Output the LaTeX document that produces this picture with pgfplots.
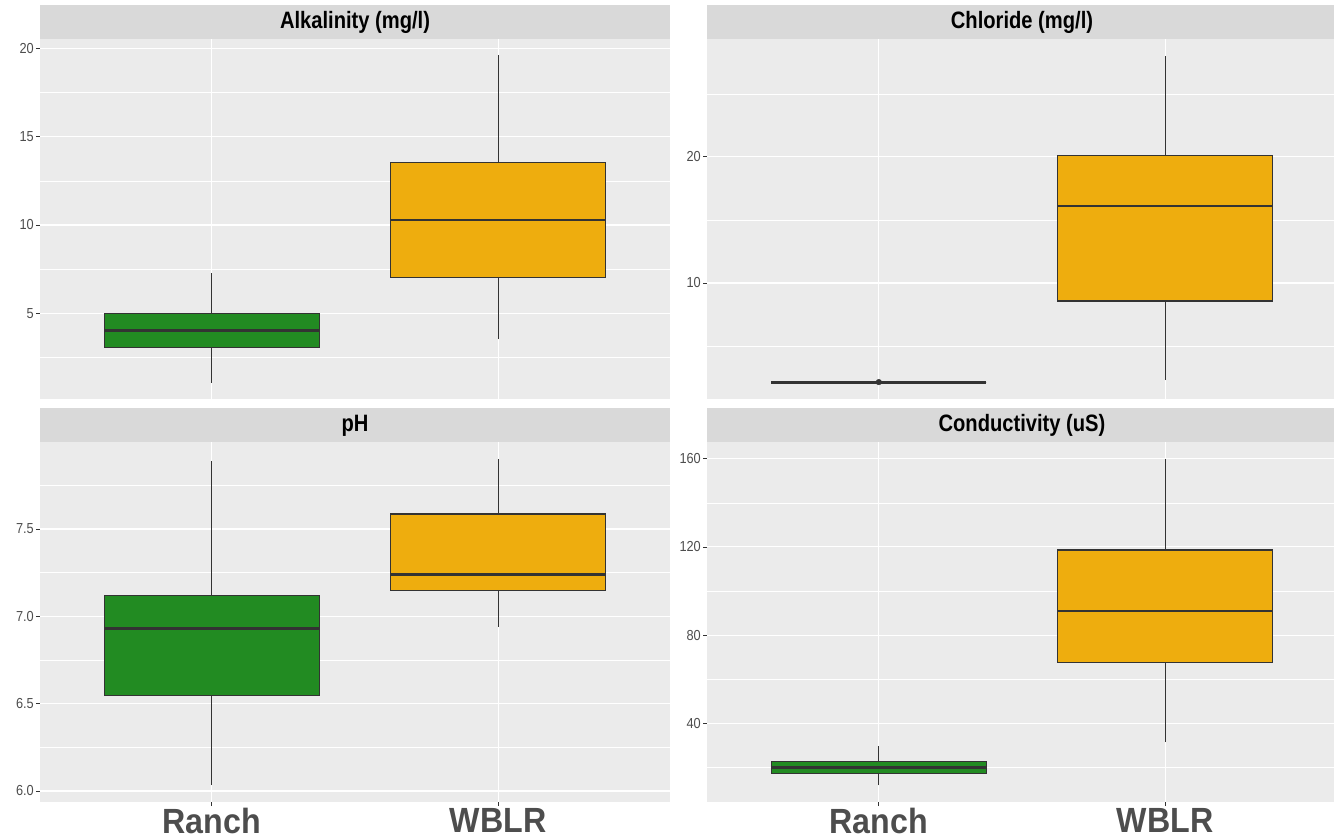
\documentclass[border=0pt]{standalone}
\usepackage{pgfplots}
\pgfplotsset{compat=1.18}
\usepgfplotslibrary{statistics}
\usepackage{fontspec}
\setmainfont{Liberation Sans}[FakeStretch=0.88]
\newfontfamily\tickfam{Liberation Sans}[FakeStretch=0.88]
\newfontfamily\stripfam{Liberation Sans}[FakeStretch=0.85]
\newfontfamily\xfam{Liberation Sans}[FakeStretch=0.92]
\definecolor{panelbg}{HTML}{EBEBEB}
\definecolor{stripbg}{HTML}{D9D9D9}
\definecolor{ranchgreen}{HTML}{228B22}
\definecolor{wblrgold}{HTML}{EEAD0E}
\definecolor{boxdraw}{HTML}{333333}
\definecolor{labelgray}{HTML}{4D4D4D}
\pgfplotsset{
  facet/.style={
    scale only axis, width=630pt, height=360pt, anchor=north west,
    xmin=0.4, xmax=2.6, xtick={1,2},
    axis background/.style={fill=panelbg},
    axis line style={draw=none},
    xmajorgrids, ymajorgrids, yminorgrids,
    major grid style={white, line width=1.1pt},
    minor grid style={white, line width=0.55pt},
    tick pos=left, tick align=outside,
    major tick length=4pt, minor tick length=0pt,
    tick style={draw=boxdraw, line width=0.8pt},
    yticklabel style={font=\tickfam\fontsize{14.5}{16}\selectfont, text=labelgray, inner sep=2pt},
    /pgf/number format/assume math mode=true,
    boxplot/draw direction=y,
    boxplot/box extend=0.75,
    boxplot/whisker extend=0,
    boxplot/every box/.style={line width=1.2pt},
    boxplot/every median/.style={line width=2.8pt},
    boxplot/every whisker/.style={line width=0.9pt},
  },
  topfacet/.style={xticklabels={}, xtick style={draw=none}},
  bottomfacet/.style={xticklabels={Ranch,WBLR},
    xticklabel style={font=\xfam\bfseries\fontsize{35}{38}\selectfont, text=labelgray, inner sep=1pt, yshift=-1pt}},
  strip/.style={extra description/.append code={
    \fill[stripbg] (rel axis cs:0,1) rectangle ([yshift=34pt]rel axis cs:1,1);
    \node[font=\stripfam\bfseries\fontsize{23.7}{26}\selectfont, text=black] at ([yshift=16.5pt]rel axis cs:0.5,1) {#1};
  }},
  ranchbox/.style={fill=ranchgreen, draw=boxdraw, mark=none},
  wblrbox/.style={fill=wblrgold, draw=boxdraw, mark=none},
}
\begin{document}
\begin{tikzpicture}[x=1pt,y=1pt]
\useasboundingbox (0,0) rectangle (1334,-840);
% Alkalinity
\begin{axis}[facet, topfacet, at={(40pt,-39pt)}, strip={Alkalinity (mg/l)},
  ymin=0.15, ymax=20.53, ytick={5,10,15,20}, minor ytick={2.5,7.5,12.5,17.5}]
\addplot[ranchbox, boxplot prepared={draw position=1, lower whisker=1.08, lower quartile=3.07, median=4.03, upper quartile=5.0, upper whisker=7.27}] coordinates {};
\addplot[wblrbox, boxplot prepared={draw position=2, lower whisker=3.52, lower quartile=7.05, median=10.28, upper quartile=13.52, upper whisker=19.6}] coordinates {};
\end{axis}
% Chloride
\begin{axis}[facet, topfacet, at={(707pt,-39pt)}, strip={Chloride (mg/l)},
  ymin=0.8, ymax=29.35, ytick={10,20}, minor ytick={5,15,25}]
\addplot[ranchbox, mark=*, mark size=2.8pt, mark options={fill=boxdraw, draw=boxdraw}, boxplot prepared={draw position=1, lower whisker=2.14, lower quartile=2.14, median=2.14, upper quartile=2.14, upper whisker=2.14}] table[row sep=\\, y index=0] {2.14\\};
\addplot[wblrbox, boxplot prepared={draw position=2, lower whisker=2.3, lower quartile=8.57, median=16.1, upper quartile=20.08, upper whisker=28.0}] coordinates {};
\end{axis}
% pH
\begin{axis}[facet, bottomfacet, at={(40pt,-442pt)}, strip={pH},
  ymin=5.937, ymax=7.998, ytick={6,6.5,7,7.5}, minor ytick={6.25,6.75,7.25,7.75},
  yticklabel style={/pgf/number format/.cd, fixed, fixed zerofill, precision=1}]
\addplot[ranchbox, boxplot prepared={draw position=1, lower whisker=6.034, lower quartile=6.546, median=6.93, upper quartile=7.12, upper whisker=7.89}] coordinates {};
\addplot[wblrbox, boxplot prepared={draw position=2, lower whisker=6.94, lower quartile=7.15, median=7.24, upper quartile=7.586, upper whisker=7.9}] coordinates {};
\end{axis}
% Conductivity
\begin{axis}[facet, bottomfacet, at={(707pt,-442pt)}, strip={Conductivity (uS)},
  ymin=4.3, ymax=167.6, ytick={40,80,120,160}, minor ytick={20,60,100,140}]
\addplot[ranchbox, boxplot prepared={draw position=1, lower whisker=11.8, lower quartile=17.3, median=20.0, upper quartile=22.7, upper whisker=29.5}] coordinates {};
\addplot[wblrbox, boxplot prepared={draw position=2, lower whisker=31.4, lower quartile=67.7, median=90.9, upper quartile=118.6, upper whisker=160}] coordinates {};
\end{axis}
\end{tikzpicture}
\end{document}
